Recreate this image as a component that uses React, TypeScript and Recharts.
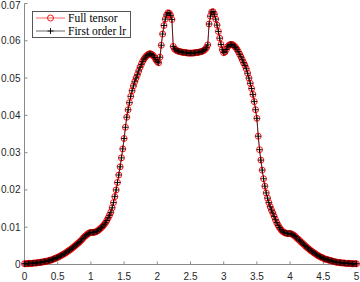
import { LineChart, Line, XAxis, YAxis, Legend } from 'recharts';

// sampling step of the x grid (0 .. 5)
const xStep = 0.02;

// values, one per grid point
const fullTensor = [
  0.0002, 0.0002, 0.0002, 0.0003, 0.0003, 0.0003, 0.0003, 0.0004, 0.0004, 0.0004,
  0.0005, 0.0005, 0.0006, 0.0006, 0.0007, 0.0008, 0.0008, 0.0009, 0.001, 0.0011,
  0.0012, 0.0013, 0.0015, 0.0016, 0.0018, 0.0019, 0.0021, 0.0023, 0.0025, 0.0027,
  0.0029, 0.0031, 0.0034, 0.0036, 0.0039, 0.0041, 0.0044, 0.0047, 0.005, 0.0053,
  0.0056, 0.0059, 0.0062, 0.0066, 0.007, 0.0074, 0.0077, 0.008, 0.0083, 0.0085,
  0.0086,
  0.0086, 0.0086, 0.0087, 0.0088, 0.009, 0.0093, 0.0096, 0.0099, 0.0103, 0.0107,
  0.0112, 0.0118, 0.0125, 0.0132, 0.014, 0.0152, 0.0166, 0.0182, 0.02, 0.022,
  0.024, 0.0262, 0.0286, 0.031, 0.0338, 0.0368, 0.0395, 0.0415, 0.0434, 0.0451,
  0.0466, 0.0479, 0.049, 0.05, 0.0509, 0.0519, 0.0529, 0.0537, 0.0545, 0.0551,
  0.0556, 0.056, 0.0563, 0.0565, 0.0565, 0.0563, 0.056, 0.0555, 0.0549, 0.0544,
  0.0541, 0.0556, 0.0588, 0.0618, 0.0641, 0.0658, 0.0669, 0.0675, 0.0674, 0.0668,
  0.0657, 0.0585, 0.0578, 0.0575, 0.0573, 0.0572, 0.0571, 0.057, 0.0569, 0.0569,
  0.0568, 0.0568, 0.0567, 0.0567, 0.0567, 0.0567, 0.0567, 0.0568, 0.0568, 0.0569,
  0.0569, 0.057, 0.0571, 0.0572, 0.0574, 0.0577, 0.0581, 0.0589, 0.0645, 0.0666,
  0.0677, 0.0678, 0.0671, 0.0658, 0.0642, 0.0625, 0.0607, 0.059, 0.0576, 0.0568,
  0.057, 0.0577, 0.0584, 0.0588, 0.059, 0.059, 0.0589, 0.0586, 0.0582, 0.0577,
  0.0571, 0.0564, 0.0557, 0.0549, 0.0541, 0.0534, 0.0525, 0.0513, 0.05, 0.0486,
  0.0472, 0.0456, 0.0437, 0.0415, 0.0392, 0.0344, 0.0308, 0.028, 0.0253, 0.023,
  0.021, 0.0192, 0.0178, 0.0166, 0.0155, 0.0146, 0.0138, 0.0129, 0.012, 0.0112,
  0.0105, 0.0099, 0.0094, 0.009, 0.0087, 0.0085, 0.0084, 0.0083, 0.0083, 0.0083,
  0.0082, 0.008, 0.0078, 0.0075, 0.0071, 0.0068, 0.0065, 0.0061, 0.0058, 0.0055,
  0.0051, 0.0048, 0.0045, 0.0042, 0.0039, 0.0036, 0.0034, 0.0031, 0.0029, 0.0026,
  0.0024, 0.0022, 0.002, 0.0019, 0.0017, 0.0015, 0.0014, 0.0013, 0.0012, 0.0011,
  0.001, 0.0009, 0.0008, 0.0007, 0.0006, 0.0006, 0.0005, 0.0005, 0.0004, 0.0004,
  0.0004, 0.0003, 0.0003, 0.0003, 0.0003, 0.0002, 0.0002, 0.0002, 0.0002, 0.0002,
];

// the low-rank curve sits on top of the full one at this resolution
const firstOrderLr = [...fullTensor];

const xTicks = [0, 0.5, 1, 1.5, 2, 2.5, 3, 3.5, 4, 4.5, 5];
const yTicks = [0, 0.01, 0.02, 0.03, 0.04, 0.05, 0.06, 0.07];
const seriesNames = ['Full tensor', 'First order lr'];

const data = fullTensor.map((v, i) => ({
  x: +(i * xStep).toFixed(2),
  full: v,
  lr: firstOrderLr[i],
}));

const AXIS = '#8a8a8a';
const TEXT = '#262626';

const PlusDot = (props: any) => {
  const { cx, cy } = props;
  if (cx == null || cy == null) return <g />;
  return (
    <path
      d={`M${cx - 3},${cy}H${cx + 3}M${cx},${cy - 3}V${cy + 3}`}
      stroke="#000"
      strokeWidth={0.9}
      fill="none"
    />
  );
};

const LegendBox = () => (
  <div
    style={{
      border: '1px solid #555',
      background: '#fff',
      padding: '0 4px 0 3px',
      fontFamily: '"Liberation Serif", serif',
      fontSize: 11.5,
      color: '#000',
      whiteSpace: 'nowrap',
    }}
  >
    <div style={{ display: 'flex', alignItems: 'center', height: 12.5 }}>
      <svg width={32} height={12}>
        <line x1={0} x2={29} y1={6} y2={6} stroke="#ff0000" strokeWidth={0.6} />
        <circle cx={14.5} cy={6} r={3} stroke="#ff0000" strokeWidth={0.9} fill="none" />
      </svg>
      <span>{seriesNames[0]}</span>
    </div>
    <div style={{ display: 'flex', alignItems: 'center', height: 12.5 }}>
      <svg width={32} height={12}>
        <line x1={0} x2={29} y1={6} y2={6} stroke="#000" strokeWidth={0.6} />
        <path d="M11.5,6H17.5M14.5,3V9" stroke="#000" strokeWidth={0.9} />
      </svg>
      <span>{seriesNames[1]}</span>
    </div>
  </div>
);

const tickStyle = { fontSize: 10, fill: TEXT, fontFamily: '"Liberation Sans", Arial, sans-serif' };
const noLabel = () => <g />;

export default function App() {
  return (
    <div style={{ position: 'absolute', left: 0, top: 0, width: 360, height: 282, background: '#fff' }}>
      <LineChart
        width={360}
        height={282}
        data={data}
        margin={{ top: 3.5, right: 3.5, bottom: 0.5, left: 0.5 }}
      >
        <XAxis
          dataKey="x"
          type="number"
          domain={[0, 5]}
          ticks={xTicks}
          height={17}
          tickSize={-3}
          tickMargin={11}
          stroke={AXIS}
          tick={tickStyle}
        />
        <XAxis
          xAxisId="top"
          orientation="top"
          type="number"
          domain={[0, 5]}
          ticks={xTicks}
          height={0}
          tickSize={-3}
          stroke={AXIS}
          tick={noLabel}
        />
        <YAxis
          type="number"
          domain={[0, 0.07]}
          ticks={yTicks}
          width={24}
          tickSize={-3}
          tickMargin={7}
          stroke={AXIS}
          tick={tickStyle}
        />
        <YAxis
          yAxisId="right"
          orientation="right"
          type="number"
          domain={[0, 0.07]}
          ticks={yTicks}
          width={0}
          tickSize={-3}
          stroke={AXIS}
          tick={noLabel}
        />
        <Legend
          layout="vertical"
          align="center"
          verticalAlign="middle"
          content={() => <LegendBox />}
          wrapperStyle={{ left: 32, top: 11, width: 'auto' }}
        />
        <Line
          type="linear"
          dataKey="full"
          name={seriesNames[0]}
          stroke="#ff0000"
          strokeWidth={0.6}
          dot={{ r: 3, stroke: '#ff0000', strokeWidth: 0.9, fill: 'none' }}
          isAnimationActive={false}
        />
        <Line
          type="linear"
          dataKey="lr"
          name={seriesNames[1]}
          stroke="#000"
          strokeWidth={0.7}
          dot={(p: any) => <PlusDot key={p.index} {...p} />}
          isAnimationActive={false}
        />
      </LineChart>
    </div>
  );
}
